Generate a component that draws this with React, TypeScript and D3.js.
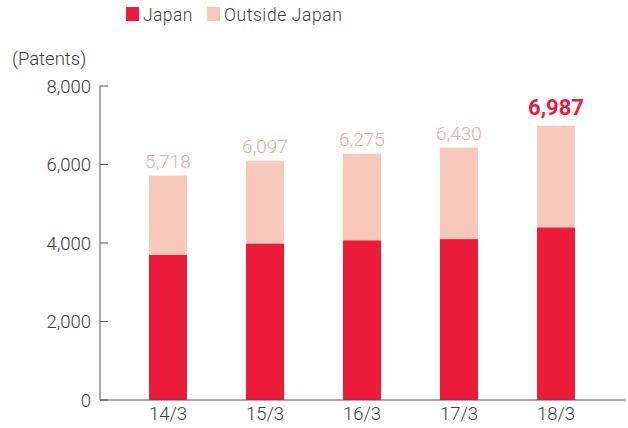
import React from "react";
import * as d3 from "d3";

const categories = ["14/3", "15/3", "16/3", "17/3", "18/3"];
const japan = [3700, 3990, 4070, 4100, 4400];
const totals = [5718, 6097, 6275, 6430, 6987];
const outside = totals.map((t, i) => t - japan[i]);
const yTicks = [0, 2000, 4000, 6000, 8000];
const seriesNames = ["Japan", "Outside Japan"];

const RED = "#ED1B3A";
const PINK = "#F8C9BB";
const LABEL_PINK = "#F4A896";
const TEXT = "#3c3c3c";
const FONT = "Roboto, 'DejaVu Sans', sans-serif";

export default function App() {
  const W = 628, H = 428;
  const y = d3.scaleLinear().domain([0, 8000]).range([400, 86]);
  const x = d3.scaleBand<string>().domain(categories).range([119.5, 604.5]).paddingInner(0.608).paddingOuter(0.304);
  const fmt = d3.format(",");
  const bw = x.bandwidth();
  return (
    <svg width={W} height={H} style={{ position: "absolute", left: 0, top: 0, background: "#fff" }} fontFamily={FONT}>
      {/* legend */}
      <rect x={126} y={7} width={13} height={14} fill={RED} />
      <text x={143} y={21} fontSize={17.5} fill={TEXT} fontWeight={300} letterSpacing={0.4}>{seriesNames[0]}</text>
      <rect x={207} y={7} width={13} height={14} fill={PINK} />
      <text x={224} y={21} fontSize={17.5} fill={TEXT} fontWeight={300} letterSpacing={0.6}>{seriesNames[1]}</text>
      {/* unit */}
      <text x={12} y={65} fontSize={18.5} fill={TEXT} fontWeight={300}>(Patents)</text>
      {/* bars */}
      {categories.map((c, i) => (
        <g key={c}>
          <rect x={x(c)} y={y(japan[i])} width={bw} height={y(0) - y(japan[i])} fill={RED} />
          <rect x={x(c)} y={y(totals[i])} width={bw} height={y(japan[i]) - y(totals[i])} fill={PINK} />
          <text
            x={(x(c) as number) + bw / 2}
            y={y(totals[i]) - (i === 4 ? 11 : 8)}
            textAnchor="middle"
            fontSize={i === 4 ? 22 : 19}
            fontWeight={i === 4 ? 700 : 300}
            fill={i === 4 ? RED : LABEL_PINK}
          >
            {fmt(totals[i])}
          </text>
          <text x={(x(c) as number) + bw / 2} y={420} textAnchor="middle" fontSize={18.5} fill={TEXT} fontWeight={300}>
            {c}
          </text>
        </g>
      ))}
      {/* y axis */}
      <line x1={100} x2={100} y1={y(8000)} y2={y(0)} stroke="#555" strokeWidth={1} />
      {yTicks.map((t) => (
        <g key={t}>
          <line x1={100} x2={108} y1={y(t)} y2={y(t)} stroke="#555" strokeWidth={1} />
          <text x={91} y={y(t) + 6.5} textAnchor="end" fontSize={18.5} fill={TEXT} fontWeight={300}>
            {fmt(t)}
          </text>
        </g>
      ))}
      {/* x axis */}
      <line x1={100} x2={626} y1={y(0)} y2={y(0)} stroke="#555" strokeWidth={1} />
    </svg>
  );
}
